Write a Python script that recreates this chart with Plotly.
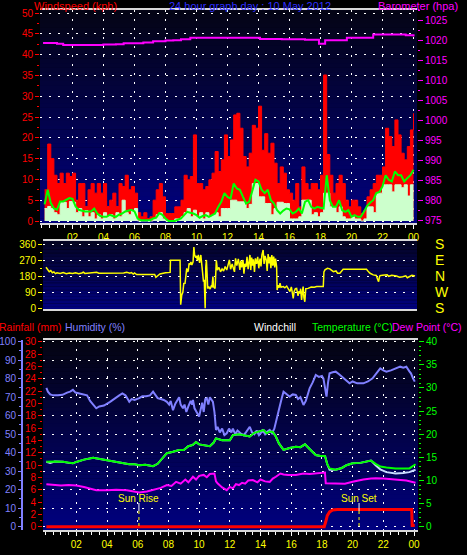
import plotly.graph_objects as go

W, H = 467, 555
FONT = "Liberation Sans, Arial, sans-serif"

# ---------------- DATA ----------------
# Wind panel (kph), sampled every 0.2 h from 0.2 h to 24.0 h
wind_hours = [round(0.2 * (i + 1), 1) for i in range(120)]
gust = [7.5, 18.5, 15, 11, 9, 11.5, 9, 11.5, 10.7, 11.5,
        5, 9, 9, 3.5, 7.5, 9, 6.7, 9, 6.7, 9,
        3.5, 5, 6.7, 3.5, 9, 8.3, 11, 7.5, 8.3, 6.7,
        2, 1, 2, 0.6, 1, 5, 7.5, 9, 5.8, 1.8,
        1.8, 1.8, 3.4, 3.4, 5, 11, 9.9, 10.7, 20.7, 9,
        9, 7.5, 8.3, 9.9, 11.5, 16.7, 11.9, 14.7, 20.7, 15.5,
        19.5, 25.5, 25.9, 22.3, 15.5, 13, 16.3, 23, 22.3, 27.6,
        17, 21, 16.3, 18.7, 13.9, 9, 13, 11.5, 7.5, 6.7,
        5, 9, 3.4, 13, 9, 7.5, 9, 9, 7.5, 11,
        35.1, 16, 11, 6.7, 9, 11, 9, 5, 3.4, 5,
        5, 3.4, 1.8, 2.6, 5.8, 7.5, 9, 11, 11, 13,
        22.3, 20.3, 17.9, 24.3, 20.7, 16.3, 14.7, 17.9, 21.9, 25.9]
speed = [3, 3.5, 3, 2, 1.5, 4.5, 4.5, 3, 4.7, 4.5,
         2, 3, 1, 2.5, 1, 2, 0.5, 1.5, 0.5, 2,
         1, 1.5, 0.5, 2, 1, 5, 2, 1.5, 2.5, 3,
         0, 0, 0, 0, 0, 0.5, 1.5, 2, 0.5, 0,
         0, 0, 0.5, 0.5, 1, 2, 3, 1, 2.6, 1,
         2, 0.5, 2, 1, 1.5, 2, 1, 3, 3, 3,
         5, 5, 4.6, 4.6, 4.6, 3, 4, 9, 9, 5.8,
         5.8, 4.2, 4.2, 1.5, 3, 4.5, 4.5, 4.2, 4.2, 0.5,
         0.5, 0.5, 1, 5, 5, 5, 1.5, 2, 1, 2,
         6.7, 6.7, 3.4, 3.4, 2, 3.4, 1, 0.5, 0.5, 1,
         0.5, 0.5, 0, 0.5, 3.4, 3.4, 2, 6.7, 6.7, 8.7,
         8.7, 8.7, 7, 8.7, 8.7, 8, 8.7, 6, 8.7, 8.7]
avg_speed = [4, 7.5, 4.3, 3, 2.7, 4.7, 4.7, 5.2, 5.5, 5.3,
             3.5, 2.7, 2.5, 2.3, 2.3, 2.3, 3, 1.8, 1.2, 1,
             1, 1.5, 1.2, 1, 1.5, 1.8, 2.3, 2.5, 2.7, 2.3,
             0.6, 0.2, 0.2, 0.2, 0.2, 0.6, 0.8, 1.9, 1.5, 0.6,
             0, 0, 0, 0.3, 0.6, 1.4, 2.2, 2, 1.8, 1.4,
             0.8, 1.2, 1.4, 1.0, 1.4, 1.8, 3.4, 4.6, 6.7, 5.8,
             5.4, 9, 7.8, 7.5, 5.8, 4.2, 4.6, 7, 9.9, 9.5,
             7.5, 6.7, 7.5, 5, 4.2, 2.6, 1.8, 2.5, 3, 2.8,
             1.8, 2.2, 3, 1.8, 4.6, 5, 3.4, 3, 3.4, 3.2,
             3, 11, 5, 3.4, 3.4, 5, 2.6, 2.2, 2.6, 1,
             1.4, 1, 1, 2.2, 3.6, 4.4, 5, 6.7, 7, 8.3,
             11, 9.9, 9.5, 11.9, 11, 11, 9.5, 10.3, 11, 12.3]

baro_hours = [0.1, 1.0, 1.4, 2.5, 3.99, 4.8, 5.3, 6.0, 6.57, 7.2, 8.0, 8.5, 9.0, 9.6,
              11.0, 13.2, 14.1, 15.5, 17.0, 17.9, 18.1, 18.3, 19.0, 19.7, 21.4, 22.5, 23.5, 24.0]
baro = [1019.3, 1019.1, 1018.8, 1018.8, 1018.9, 1019.0, 1019.2, 1019.2, 1019.4, 1019.7,
        1019.9, 1020.0, 1020.2, 1020.6, 1020.6, 1020.6, 1020.3, 1020.2, 1020.1, 1019.1,
        1019.1, 1020.0, 1020.0, 1020.6, 1021.4, 1021.4, 1021.2, 1020.9]

# Wind direction (degrees)
wd_hours = [0.29, 0.4, 0.5, 0.6, 0.7, 0.8, 0.9, 1.0, 1.2, 1.4, 1.6, 1.8, 2.0, 2.2, 2.4, 2.6, 2.7, 2.8,
            3.0, 3.2, 3.4, 3.56, 3.7, 4.0, 4.5, 5.0, 5.3, 5.5, 5.7, 5.8, 5.92, 6.0, 6.14, 6.5, 7.0,
            7.3, 7.38, 7.45, 7.55, 7.64, 8.0, 8.3, 8.32, 8.94, 8.98, 9.05, 9.12, 9.18, 9.26, 9.32,
            9.37, 9.42, 9.47, 9.52, 9.58, 9.64, 9.7, 9.78, 9.83, 9.88, 9.95, 10.0, 10.06, 10.12,
            10.2, 10.28, 10.34, 10.4, 10.45, 10.5, 10.53, 10.56, 10.6, 10.64, 10.68, 10.72, 10.8,
            10.88, 10.95, 11.0, 11.06, 11.1, 11.2, 11.28, 11.35, 11.45, 11.55, 11.65, 11.75, 11.85,
            11.95, 12.05, 12.12, 12.2, 12.3, 12.38, 12.45, 12.52, 12.6, 12.7, 12.8, 12.86, 12.92,
            13.0, 13.06, 13.12, 13.2, 13.26, 13.33, 13.4, 13.45, 13.5, 13.56, 13.62, 13.67, 13.74,
            13.8, 13.88, 13.95, 14.02, 14.1, 14.16, 14.22, 14.3, 14.36, 14.42, 14.5, 14.56, 14.62,
            14.68, 14.74, 14.8, 14.86, 14.92, 14.98, 15.05, 15.1, 15.17, 15.2, 15.26, 15.32, 15.39,
            15.45, 15.6, 15.7, 15.82, 15.92, 16.03, 16.12, 16.2, 16.24, 16.3, 16.38, 16.46, 16.55,
            16.6, 16.67, 16.72, 16.78, 16.83, 16.88, 16.93, 16.99, 17.05, 17.2, 17.4, 17.6, 17.75,
            18.0, 18.18, 18.22, 18.29, 18.45, 18.6, 18.7, 18.83, 19.0, 19.1, 19.25, 19.35, 19.46,
            20.0, 20.5, 20.97, 21.1, 21.2, 21.4, 21.6, 21.7, 21.75, 21.8, 21.84, 22.0, 22.3, 22.4,
            22.6, 22.9, 23.1, 23.3, 23.5, 23.6, 23.77, 23.9, 24.1]
wd_deg = [231, 215, 206, 212, 200, 205, 195, 200, 196, 201, 195, 199, 196, 200, 195, 199, 203, 196,
          198, 196, 201, 203, 197, 197, 197, 197, 199, 203, 198, 201, 193, 199, 190, 190, 190,
          190, 174, 180, 190, 193, 200, 202, 270, 270, 20, 75, 90, 140, 141, 215,
          225, 205, 210, 253, 245, 260, 244, 262, 345, 300, 285, 295, 270, 300,
          255, 300, 253, 175, 150, 160, 0, 0, 234, 272, 200, 112, 120,
          108, 125, 122, 178, 120, 112, 270, 215, 230, 205, 222, 210, 235,
          215, 245, 272, 220, 250, 225, 205, 281, 240, 278, 216, 268, 230,
          272, 195, 250, 234, 290, 220, 265, 300, 215, 285, 240, 275, 205,
          281, 250, 290, 225, 280, 235, 300, 328, 250, 295, 272, 210, 305,
          253, 290, 225, 300, 240, 291, 230, 280, 234, 103, 130, 115, 141,
          118, 122, 115, 125, 110, 94, 120, 75, 56, 95, 110, 112, 70,
          95, 84, 110, 47, 90, 122, 60, 37, 110, 112, 120, 118, 122,
          120, 122, 205, 216, 225, 222, 215, 206, 210, 197, 197, 205, 219,
          219, 219, 219, 205, 197, 188, 185, 159, 150, 175, 184, 186, 188, 180,
          186, 182, 175, 178, 183, 172, 182, 186, 182]

# Bottom panel
hum_hours = [0.05, 0.15, 0.3, 0.5, 0.8, 1.1, 1.4, 1.6, 1.78, 1.95, 2.2, 2.5, 2.7, 2.9, 3.1, 3.3, 3.5,
             3.8, 4.2, 4.5, 4.8, 5.0, 5.2, 5.35, 5.45, 5.6, 5.8, 6.1, 6.3, 6.55, 6.8, 7.0, 7.15, 7.3,
             7.5, 7.7, 7.9, 8.05, 8.15, 8.3, 8.45, 8.6, 8.7, 8.8, 8.95, 9.05, 9.17, 9.3, 9.45, 9.55,
             9.6, 9.7, 9.8, 9.9, 10.0, 10.1, 10.2, 10.3, 10.4, 10.5, 10.6, 10.7, 10.8, 10.9, 11.0,
             11.1, 11.2, 11.35, 11.5, 11.65, 11.8, 11.95, 12.1, 12.2, 12.35, 12.5, 12.7, 12.9, 13.05,
             13.2, 13.3, 13.45, 13.6, 13.75, 13.9, 14.0, 14.15, 14.3, 14.45, 14.6, 14.75, 14.9, 15.0,
             15.1, 15.25, 15.4, 15.5, 15.65, 15.9, 16.1, 16.3, 16.45, 16.6, 16.8, 16.95, 17.1, 17.2,
             17.4, 17.6, 17.8, 18.0, 18.1, 18.2, 18.3, 18.4, 18.5, 18.7, 18.9, 19.1, 19.4, 19.6, 19.8,
             20.0, 20.3, 20.7, 21.0, 21.3, 21.6, 21.8, 22.0, 22.2, 22.5, 22.8, 23.1, 23.3, 23.5, 23.7,
             23.8, 23.95, 24.05]
humidity = [75, 73, 71.5, 71, 71, 71.3, 72.5, 73, 74, 72.5, 72, 71.5, 71, 68, 66, 64, 65,
            65.5, 67.5, 69.5, 71, 72, 71, 69, 67.5, 69, 68.5, 69.5, 70.5, 70.5, 71, 73, 71, 69.5,
            69, 68.5, 67.5, 66, 68, 63, 66.5, 69, 70, 66, 64, 66, 62, 65, 68, 66,
            68.5, 64, 62, 61, 59.5, 63, 67, 62, 69, 69.4, 66, 70, 69, 67.5, 62,
            52.3, 54, 51, 53, 49.5, 50.5, 53, 51, 53, 50, 52, 50.5, 49.5, 51,
            52.5, 54, 51, 50, 52, 49.5, 50.5, 52, 50, 51.5, 52.3, 50.5, 53, 56,
            60, 65, 70, 73, 72, 70.3, 71.5, 71.2, 69, 70, 65.8, 68, 72, 74.8,
            78, 82, 81, 81.5, 80, 74, 70.3, 78, 82.9, 83.5, 83.8, 82.5, 80.2, 78.5, 77.5,
            78.5, 77.5, 77.5, 78.5, 80.2, 83.5, 85.6, 84.5, 83.8, 84.5, 85.5, 86.5, 86, 86.5, 84,
            82.9, 80, 78.4]

temp_hours = [0.05, 0.3, 0.6, 1.13, 1.5, 1.78, 2.0, 2.5, 3.1, 3.6, 4.2, 4.8, 5.45, 5.8, 6.1, 6.5, 7.0,
              7.3, 7.6, 7.9, 8.3, 8.7, 9.0, 9.3, 9.6, 9.8, 10.0, 10.3, 10.7, 10.95, 11.1, 11.5, 12.0,
              12.2, 12.6, 13.0, 13.3, 13.6, 14.0, 14.2, 14.4, 14.6, 14.8, 15.0, 15.2, 15.5, 15.9, 16.3,
              16.6, 16.9, 17.2, 17.6, 17.9, 18.2, 18.35, 18.5, 18.9, 19.3, 19.6, 20.0, 20.5, 20.9,
              21.2, 21.5, 21.8, 22.2, 22.8, 23.3, 23.7, 24.1]
temperature = [14.05, 14.0, 14.1, 14.05, 13.8, 13.7, 14.0, 14.5, 14.9, 14.6, 14.3, 13.8, 13.5, 13.5,
               13.3, 13.4, 13.1, 13.6, 14.8, 15.9, 16.2, 16.6, 16.6, 17.4, 17.7, 18.3, 17.8, 17.6,
               17.4, 18.2, 19.1, 18.7, 18.7, 19.8, 20.0, 19.7, 19.5, 20.3, 20.7, 20.9, 20.2, 20.6,
               20.5, 19.5, 18.0, 16.6, 17.0, 17.3, 17.2, 17.8, 16.8, 15.5, 15.3, 15.3, 13.5, 12.6,
               12.3, 12.7, 13.3, 13.7, 13.8, 14.0, 14.3, 13.6, 13.0, 12.8, 12.6, 12.6, 12.6, 13.5]
windchill = [14.05, 13.8, 14.1, 14.05, 13.8, 13.7, 14.0, 14.5, 14.9, 14.6, 14.3, 13.8, 13.5, 13.5,
             13.3, 13.4, 13.1, 13.6, 14.8, 15.9, 16.2, 16.6, 16.6, 17.4, 17.7, 18.3, 17.8, 17.6,
             17.4, 18.2, 19.1, 18.7, 18.7, 19.8, 20.0, 19.7, 19.5, 20.3, 20.7, 20.9, 20.2, 20.6,
             20.5, 19.5, 18.0, 16.6, 17.0, 17.3, 17.2, 17.8, 16.8, 15.5, 15.3, 15.3, 13.5, 12.3,
             12.3, 12.7, 13.3, 13.7, 13.8, 14.0, 14.3, 13.3, 12.4, 11.8, 11.5, 11.6, 11.8, 12.3]

dew_hours = [0.05, 0.5, 1.0, 1.5, 2.0, 2.5, 3.0, 3.3, 4.0, 4.6, 5.3, 5.8, 6.1, 6.6, 7.0, 7.5, 7.9, 8.2,
             8.5, 8.8, 9.1, 9.3, 9.6, 9.8, 10.0, 10.3, 10.5, 10.7, 11.0, 11.1, 11.2, 11.5, 11.8, 12.0,
             12.2, 12.4, 12.6, 12.8, 13.0, 13.2, 13.5, 13.8, 14.0, 14.3, 14.6, 14.8, 15.0, 15.3, 15.5,
             15.8, 16.3, 16.8, 17.2, 17.7, 18.2, 18.25, 18.9, 19.5, 20.0, 20.4, 20.7, 21.2, 21.5,
             22.0, 22.8, 23.5, 24.1]
dew_point = [9.2, 9.0, 8.9, 9.0, 8.9, 8.6, 8.2, 7.9, 7.9, 8.0, 7.9, 7.6, 7.4, 7.6, 7.9, 8.4, 9.0, 8.8,
             9.7, 9.3, 10.2, 9.6, 10.8, 10.2, 11.0, 11.2, 10.7, 11.4, 11.5, 9.8, 9.4, 8.5, 7.9, 8.6,
             8.3, 9.2, 9.0, 9.5, 9.3, 10.0, 10.1, 9.6, 10.2, 9.8, 9.7, 10.4, 10.8, 11.5, 11.3,
             11.2, 11.2, 11.5, 11.4, 11.6, 11.7, 9.4, 9.4, 9.3, 9.7, 10.0, 10.2, 10.4, 10.5,
             10.4, 10.2, 10.0, 9.5]

rain_hours = [0.05, 18.15, 18.25, 18.35, 18.5, 18.7, 19.0, 23.85, 23.88, 24.05]
rainfall = [0, 0, 0.8, 1.8, 2.4, 2.7, 2.8, 2.8, 0.2, 0.2]

sun_events = ["Sun Rise", "Sun Set"]
sun_hours = [6.08, 20.42]

hour_ticks = [2, 4, 6, 8, 10, 12, 14, 16, 18, 20, 22, 24]
hour_labels = ["02", "04", "06", "08", "10", "12", "14", "16", "18", "20", "22", "00"]
dir_ticks = [0, 90, 180, 270, 360]
dir_letters = ["S", "W", "N", "E", "S"]


# ---------------- helpers ----------------
def px(x):
    return x / W


def py(y):
    return 1 - y / H


YELLOW = "#ffff00"
RED = "#ff0000"
MAG = "#ff00ff"
GREEN = "#00ff00"
HUMC = "#8080ff"
FRAME = "#d8d8d8"
GRIDDASH = "2px,7px"

P1_Y = [py(223), py(10)]
P2_Y = [py(309.3), py(241)]
P3_Y = [py(530), py(340)]
RAIN_RANGE = [-0.535, 30.276]
DIR_RANGE = [-5.6, 378.5]

fig = go.Figure()

# --- panel 1 ---
fig.add_trace(go.Scatter(x=wind_hours, y=gust, mode="lines", line=dict(color=RED, width=1, shape="hv"),
                         fill="tozeroy", fillcolor=RED, xaxis="x", yaxis="y", showlegend=False))
fig.add_trace(go.Scatter(x=wind_hours, y=speed, mode="lines", line=dict(color="#ccffcc", width=1, shape="hv"),
                         fill="tozeroy", fillcolor="#ccffcc", xaxis="x", yaxis="y", showlegend=False))
fig.add_trace(go.Scatter(x=wind_hours, y=avg_speed, mode="lines", line=dict(color=GREEN, width=2),
                         xaxis="x", yaxis="y", showlegend=False))
fig.add_trace(go.Scatter(x=baro_hours, y=baro, mode="lines", line=dict(color=MAG, width=2, shape="hv"),
                         xaxis="x", yaxis="y2", showlegend=False))

# --- panel 2 ---
fig.add_trace(go.Scatter(x=wd_hours, y=wd_deg, mode="lines", line=dict(color=YELLOW, width=1.5),
                         xaxis="x2", yaxis="y3", showlegend=False))
# same series bound (invisibly) to the compass-letter axis so that axis is rendered
fig.add_trace(go.Scatter(x=wd_hours, y=wd_deg, mode="lines", line=dict(color=YELLOW, width=1), opacity=0,
                         xaxis="x2", yaxis="y4", showlegend=False, hoverinfo="skip"))

# --- panel 3 ---
fig.add_trace(go.Scatter(x=rain_hours, y=rainfall, mode="lines", line=dict(color=RED, width=1), opacity=0,
                         xaxis="x3", yaxis="y5", showlegend=False, hoverinfo="skip"))
fig.add_trace(go.Scatter(x=hum_hours, y=humidity, mode="lines", line=dict(color=HUMC, width=2),
                         xaxis="x3", yaxis="y6", showlegend=False))
fig.add_trace(go.Scatter(x=temp_hours, y=windchill, mode="lines", line=dict(color="#c8dcff", width=2),
                         xaxis="x3", yaxis="y8", showlegend=False))
fig.add_trace(go.Scatter(x=temp_hours, y=temperature, mode="lines", line=dict(color=GREEN, width=2),
                         xaxis="x3", yaxis="y8", showlegend=False))
fig.add_trace(go.Scatter(x=dew_hours, y=dew_point, mode="lines", line=dict(color=MAG, width=2),
                         xaxis="x3", yaxis="y8", showlegend=False))
fig.add_trace(go.Scatter(x=rain_hours, y=rainfall, mode="lines", line=dict(color=RED, width=3),
                         xaxis="x3", yaxis="y7", showlegend=False))

tickfont = dict(family=FONT, size=10)


def xaxis_common(domain, rng, anchor, labels=True):
    d = dict(domain=domain, range=rng, anchor=anchor, showline=True, mirror=True, linecolor=FRAME,
             linewidth=2, showgrid=True, gridcolor="white", gridwidth=1, griddash=GRIDDASH, zeroline=False,
             tickmode="array", tickvals=hour_ticks, ticktext=hour_labels,
             tickfont=dict(tickfont, color=YELLOW), fixedrange=True)
    if labels:
        d.update(ticks="outside", ticklen=4, tickcolor="white", tickwidth=1,
                 minor=dict(tick0=0, dtick=0.5, ticks="outside", ticklen=3,
                            tickcolor="white", showgrid=False))
    else:
        d.update(showticklabels=False, ticks="", showgrid=False)
    return d


fig.update_layout(
    width=W, height=H, template="none",
    margin=dict(l=0, r=0, t=0, b=0, pad=0),
    paper_bgcolor="black", plot_bgcolor="black",
    font=dict(family=FONT, size=10, color="white"),
    showlegend=False,
    xaxis=xaxis_common([px(40), px(417)], [-0.097, 24.226], "y"),
    yaxis=dict(domain=P1_Y, range=[-0.48, 50.72], anchor="x",
               tickmode="linear", tick0=0, dtick=5, tickfont=dict(tickfont, color=RED),
               ticks="outside", ticklen=4, tickcolor=RED,
               minor=dict(tick0=0, dtick=2.5, ticks="outside", ticklen=2, tickcolor=RED, showgrid=False),
               showgrid=True, gridcolor="white", griddash=GRIDDASH, zeroline=False,
               showline=False),
    yaxis2=dict(overlaying="y", domain=P1_Y, side="right", anchor="x", range=[974.5, 1027.5],
                tickmode="linear", tick0=975, dtick=5, tickfont=dict(tickfont, color=MAG),
                ticks="outside", ticklen=5, tickcolor=MAG,
                minor=dict(tick0=975, dtick=2.5, ticks="outside", ticklen=2, tickcolor=MAG, showgrid=False),
                showgrid=False, zeroline=False, showline=False),
    xaxis2=xaxis_common([px(43), px(417)], [0.097, 24.226], "y3", labels=False),
    yaxis3=dict(domain=P2_Y, range=DIR_RANGE, anchor="x2",
                tickmode="linear", tick0=0, dtick=90, tickfont=dict(tickfont, color=YELLOW),
                ticks="outside", ticklen=4, tickcolor=YELLOW,
                minor=dict(tick0=0, dtick=45, ticks="outside", ticklen=2, tickcolor=YELLOW, showgrid=False),
                showgrid=True, gridcolor="white", griddash=GRIDDASH, zeroline=False, showline=False),
    yaxis4=dict(overlaying="y3", domain=P2_Y, side="right", anchor="x2", range=DIR_RANGE,
                tickmode="array", tickvals=dir_ticks, ticktext=dir_letters,
                tickfont=dict(family=FONT, size=14, color=YELLOW), ticks="", ticklabelstandoff=17,
                showgrid=False, zeroline=False, showline=False),
    xaxis3=xaxis_common([px(43), px(418)], [-0.169, 24.26], "y5"),
    # main axis of bottom panel: rainfall scale, grid every 3 mm (= every 10 % humidity)
    yaxis5=dict(domain=P3_Y, range=RAIN_RANGE, anchor="x3",
                tickmode="linear", tick0=0, dtick=3, showticklabels=False, ticks="",
                showgrid=True, gridcolor="white", griddash=GRIDDASH, zeroline=False, showline=False),
    yaxis6=dict(overlaying="y5", domain=P3_Y, anchor="free", position=px(22), side="left",
                range=[-1.78, 100.92],
                tickmode="linear", tick0=0, dtick=10, tickfont=dict(tickfont, color=HUMC),
                ticks="outside", ticklen=3, tickcolor=HUMC,
                minor=dict(tick0=0, dtick=5, ticks="outside", ticklen=2, tickcolor=HUMC, showgrid=False),
                showline=True, linecolor=HUMC, linewidth=2, showgrid=False, zeroline=False),
    yaxis7=dict(overlaying="y5", domain=P3_Y, anchor="x3", side="left", range=RAIN_RANGE,
                tickmode="linear", tick0=0, dtick=2, tickfont=dict(tickfont, color=RED),
                ticks="outside", ticklen=4, tickcolor=RED,
                minor=dict(tick0=0, dtick=1, ticks="outside", ticklen=2, tickcolor=RED, showgrid=False),
                showgrid=False, zeroline=False, showline=False),
    yaxis8=dict(overlaying="y5", domain=P3_Y, anchor="x3", side="right", range=[-0.714, 40.37],
                tickmode="linear", tick0=0, dtick=5, tickfont=dict(tickfont, color=GREEN),
                ticks="outside", ticklen=5, tickcolor=GREEN,
                minor=dict(tick0=0, dtick=1, ticks="outside", ticklen=2, tickcolor=GREEN, showgrid=False),
                showgrid=False, zeroline=False, showline=False),
)

# gradient backgrounds
shapes = []
NB = 48
for xr, yr, top in [("x domain", "y domain", (4, 4, 20)), ("x2 domain", "y3 domain", (4, 4, 36)),
                    ("x3 domain", "y5 domain", (4, 4, 16))]:
    bot = (0, 0, 128)
    for i in range(NB):
        t = (i + 0.5) / NB
        c = tuple(int(round(bot[k] + (top[k] - bot[k]) * t)) for k in range(3))
        shapes.append(dict(type="rect", xref=xr, yref=yr, x0=0, x1=1, y0=i / NB, y1=(i + 1) / NB + 0.002,
                           fillcolor="rgb(%d,%d,%d)" % c, line=dict(width=0), layer="below"))

# sun rise / set markers
annotations = []
for name, h in zip(sun_events, sun_hours):
    shapes.append(dict(type="line", xref="x3", yref="paper", x0=h, x1=h, y0=py(503), y1=py(511),
                       line=dict(color="white", width=1), layer="above"))
    shapes.append(dict(type="line", xref="x3", yref="paper", x0=h, x1=h, y0=py(511), y1=py(529),
                       line=dict(color=YELLOW, width=1, dash="dot"), layer="above"))
    annotations.append(dict(text=name, x=h, xref="x3", y=py(498), yref="paper", showarrow=False,
                            xanchor="center", yanchor="middle",
                            font=dict(family=FONT, size=10, color=YELLOW)))


def title(text, xc, yc, color, size=10.5):
    annotations.append(dict(text=text, x=px(xc), y=py(yc), xref="paper", yref="paper", showarrow=False,
                            xanchor="center", yanchor="middle", font=dict(family=FONT, size=size, color=color)))


title("Windspeed (kph)", 75, 6, RED, 11)
title("24 hour graph day : 10 May 2012", 250, 6, "#2e2eff", 11)
title("Barometer (hpa)", 418, 6, MAG, 11)
title("Rainfall (mm)", 30, 327, RED, 10.5)
title("Humidity (%)", 95, 327, HUMC, 10.5)
title("Windchill", 275, 327, "white", 10.5)
title("Temperature (°C)", 352, 327, GREEN, 10.5)
title("Dew Point (°C)", 427, 327, MAG, 10.5)

fig.update_layout(shapes=shapes, annotations=annotations)

fig.write_html("out.html", config=dict(displayModeBar=False),
               post_script="document.body.style.margin='0';document.body.style.overflow='hidden';")
